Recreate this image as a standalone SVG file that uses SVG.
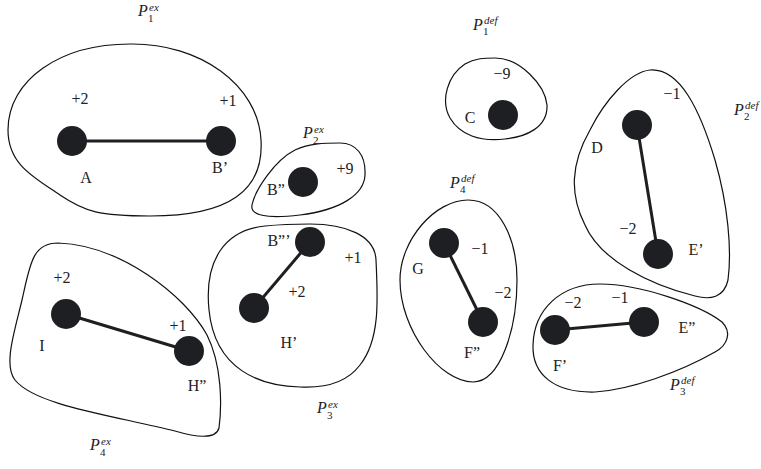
<svg xmlns="http://www.w3.org/2000/svg" width="761" height="469" viewBox="0 0 761 469">
<style>
.blob{fill:none;stroke:#111;stroke-width:1.2}
.node{fill:#1e1f22}
.edge{stroke:#1e1f22;stroke-width:3;fill:none}
.lb{font-family:"Liberation Serif","DejaVu Serif",serif;font-size:16px;fill:#222;text-anchor:middle;dominant-baseline:central}
.P{font-family:"Liberation Serif","DejaVu Serif",serif;font-size:16px;font-style:italic;fill:#222}
.sup{font-family:"Liberation Serif","DejaVu Serif",serif;font-size:11px;font-style:italic;fill:#222}
.sub{font-family:"Liberation Serif","DejaVu Serif",serif;font-size:11px;fill:#222}
</style>
<rect width="761" height="469" fill="#fff"/>

<g id="blobs">
<path id="P1ex-blob" class="blob" d="M130,44 C200,43 258,85 261,140 C264,190 230,216 150,216 C100,216 85,212 60,195 C35,178 8,165 8,130 C8,80 60,44 130,44 Z"/>
<path id="P2ex-blob" class="blob" d="M340,143 C356,143 366,155 365,175 C364,195 340,210 300,215 C265,219 250,215 252,205 C255,190 275,160 295,150 C310,143 325,143 340,143 Z"/>
<path id="P3ex-blob" class="blob" d="M310,224 C345,224 375,235 376,260 C378,300 380,340 360,365 C345,385 320,388 300,387 C260,386 215,370 209,310 C204,260 225,230 265,226 C285,224 295,224 310,224 Z"/>
<path id="P4ex-blob" class="blob" d="M58,243 C120,245 185,295 207,335 C222,365 222,405 219,428 C216,440 195,437 175,431 C110,415 35,405 15,380 C3,365 15,330 22,300 C30,265 32,243 58,243 Z"/>
<path id="P1def-blob" class="blob" d="M495,58 C520,58 545,85 547,105 C548,128 525,137 505,139 C480,142 460,135 450,118 C440,100 448,75 465,64 C475,58 485,58 495,58 Z"/>
<path id="P2def-blob" class="blob" d="M650,70 C680,68 700,110 715,160 C728,205 732,250 728,280 C724,298 710,300 695,296 C650,285 600,260 585,225 C570,195 570,165 590,130 C605,100 630,72 650,70 Z"/>
<path id="P3def-blob" class="blob" d="M600,284 C640,284 700,305 722,322 C732,332 728,345 715,352 C680,372 630,390 595,392 C555,393 532,375 533,345 C534,310 560,284 600,284 Z"/>
<path id="P4def-blob" class="blob" d="M468,200 C500,200 517,240 517,280 C517,330 500,382 473,382 C440,382 400,330 400,280 C400,240 435,200 468,200 Z"/>
</g>

<g id="connectors">
<line class="edge" x1="72" y1="141" x2="221" y2="141"/>
<line class="edge" x1="310" y1="242" x2="254" y2="308"/>
<line class="edge" x1="66" y1="314" x2="189" y2="351"/>
<line class="edge" x1="637" y1="125" x2="658" y2="254"/>
<line class="edge" x1="444" y1="243" x2="483" y2="322"/>
<line class="edge" x1="555" y1="330" x2="644" y2="322"/>
</g>

<g id="A"><circle class="node" cx="72" cy="141" r="15"/><text class="lb" x="86" y="177">A</text><text class="lb" x="80" y="98">+2</text></g>
<g id="Bp"><circle class="node" cx="221" cy="141" r="15"/><text class="lb" x="220" y="167">B’</text><text class="lb" x="228" y="100">+1</text></g>
<g id="Bpp"><circle class="node" cx="303" cy="182" r="15"/><text class="lb" x="276" y="189">B”</text><text class="lb" x="345" y="168">+9</text></g>
<g id="Bppp"><circle class="node" cx="310" cy="242" r="15"/><text class="lb" x="279" y="240">B”’</text><text class="lb" x="353" y="257">+1</text></g>
<g id="Hp"><circle class="node" cx="254" cy="308" r="15"/><text class="lb" x="289" y="342">H’</text><text class="lb" x="297" y="291">+2</text></g>
<g id="I"><circle class="node" cx="66" cy="314" r="15"/><text class="lb" x="42" y="345">I</text><text class="lb" x="62" y="277">+2</text></g>
<g id="Hpp"><circle class="node" cx="189" cy="351" r="15"/><text class="lb" x="197" y="385">H”</text><text class="lb" x="178" y="325">+1</text></g>
<g id="C"><circle class="node" cx="503" cy="115" r="15"/><text class="lb" x="470" y="117">C</text><text class="lb" x="502" y="73">−9</text></g>
<g id="D"><circle class="node" cx="637" cy="125" r="15"/><text class="lb" x="597" y="147">D</text><text class="lb" x="672" y="93">−1</text></g>
<g id="Ep"><circle class="node" cx="658" cy="254" r="15"/><text class="lb" x="696" y="249">E’</text><text class="lb" x="628" y="228">−2</text></g>
<g id="G"><circle class="node" cx="444" cy="243" r="15"/><text class="lb" x="418" y="268">G</text><text class="lb" x="480" y="248">−1</text></g>
<g id="Fpp"><circle class="node" cx="483" cy="322" r="15"/><text class="lb" x="472" y="352">F”</text><text class="lb" x="503" y="292">−2</text></g>
<g id="Fp"><circle class="node" cx="555" cy="330" r="15"/><text class="lb" x="560" y="365">F’</text><text class="lb" x="573" y="302">−2</text></g>
<g id="Epp"><circle class="node" cx="644" cy="322" r="15"/><text class="lb" x="687" y="327">E”</text><text class="lb" x="620" y="297">−1</text></g>

<g id="P1ex"><text class="P" x="138" y="16">P</text><text class="sup" x="149" y="11">ex</text><text class="sub" x="148" y="22">1</text></g>
<g id="P2ex"><text class="P" x="303" y="138">P</text><text class="sup" x="314" y="133">ex</text><text class="sub" x="313" y="144">2</text></g>
<g id="P3ex"><text class="P" x="317" y="413">P</text><text class="sup" x="328" y="408">ex</text><text class="sub" x="327" y="419">3</text></g>
<g id="P4ex"><text class="P" x="90" y="450">P</text><text class="sup" x="101" y="445">ex</text><text class="sub" x="100" y="456">4</text></g>
<g id="P1def"><text class="P" x="473" y="30">P</text><text class="sup" x="484" y="24">def</text><text class="sub" x="483" y="35">1</text></g>
<g id="P2def"><text class="P" x="734" y="115">P</text><text class="sup" x="745" y="109">def</text><text class="sub" x="744" y="120">2</text></g>
<g id="P3def"><text class="P" x="670" y="390">P</text><text class="sup" x="681" y="384">def</text><text class="sub" x="680" y="395">3</text></g>
<g id="P4def"><text class="P" x="450" y="188">P</text><text class="sup" x="461" y="182">def</text><text class="sub" x="460" y="193">4</text></g>
</svg>
